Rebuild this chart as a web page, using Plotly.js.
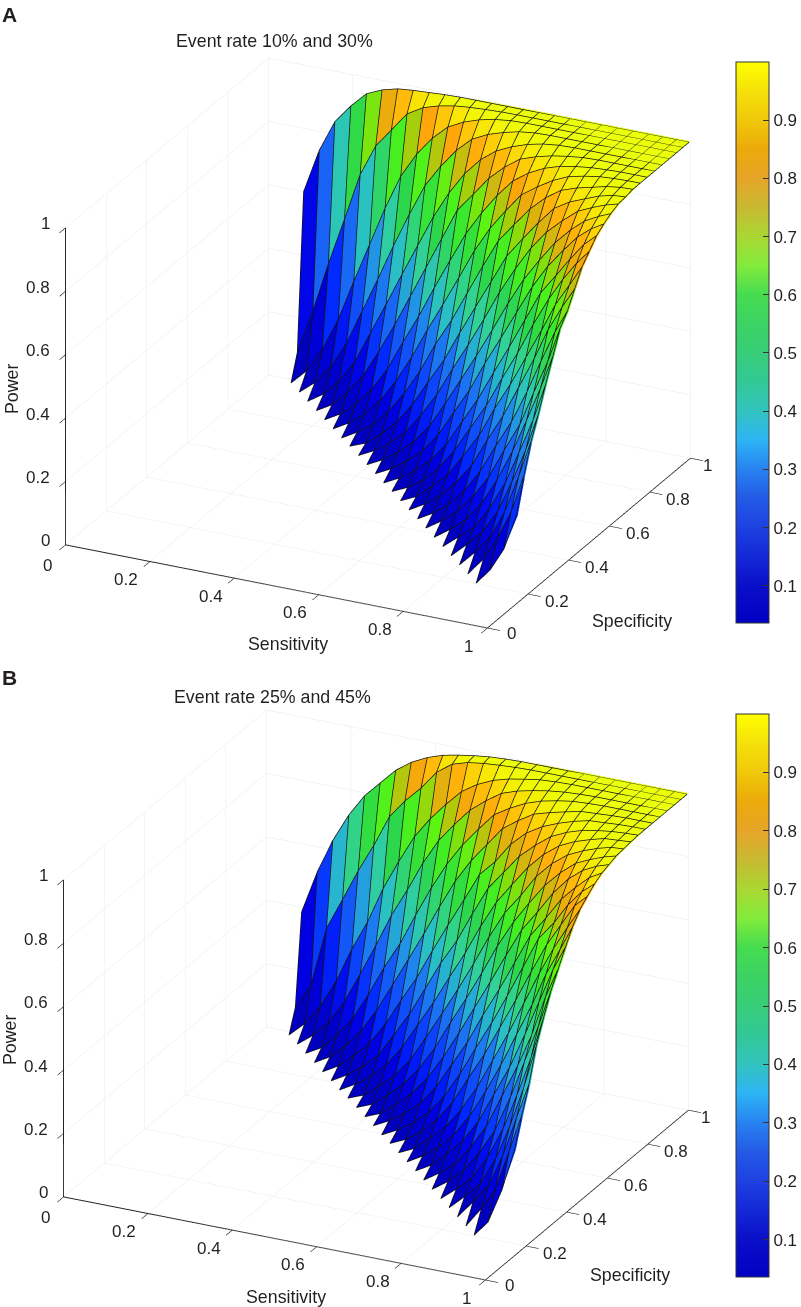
<!DOCTYPE html>
<html><head><meta charset="utf-8">
<script src="https://cdn.plot.ly/plotly-3.0.1.min.js"></script>
<style>html,body{margin:0;padding:0;background:#fff}#g{width:801px;height:1307px}</style></head>
<body><div id="g"></div>
<script>
const sensitivity=[.083,.12,.157,.195,.232,.269,.306,.343,.381,.418,.455,.492,.529,.567,.604,.641,.678,.715,.753,.79,.827,.864,.901,.934,.967,1];
const specificity=[.15,.186,.222,.257,.293,.329,.365,.401,.436,.472,.508,.544,.58,.615,.651,.687,.723,.759,.794,.83,.866,.902,.938,.969,1];
const tickValues=[0,.2,.4,.6,.8,1];
const tickLabels=['0','0.2','0.4','0.6','0.8','1'];
const barTicks=[.1,.2,.3,.4,.5,.6,.7,.8,.9];
// one row per specificity, right-aligned on sensitivity
const powerA=[
[.035,.085,.16,.275],
[.035,.092,.165,.26,.38],
[.035,.085,.145,.23,.35,.47],
[.035,.08,.13,.205,.305,.415,.535],
[.035,.075,.115,.185,.275,.38,.49,.61],
[.035,.07,.11,.17,.255,.355,.46,.57,.68],
[.035,.067,.108,.165,.235,.33,.42,.53,.635,.75],
[.035,.063,.10,.155,.225,.315,.40,.505,.61,.71,.785],
[.035,.063,.10,.15,.215,.305,.39,.49,.59,.69,.77,.835],
[.035,.058,.10,.145,.215,.29,.385,.47,.565,.66,.75,.82,.885],
[.035,.058,.092,.14,.205,.285,.365,.46,.55,.65,.74,.81,.87,.915],
[.033,.058,.092,.135,.195,.275,.355,.45,.54,.635,.73,.795,.855,.91,.945],
[.033,.058,.092,.135,.195,.275,.355,.45,.54,.63,.72,.795,.855,.905,.94,.963],
[.033,.058,.092,.135,.195,.275,.36,.445,.535,.63,.715,.785,.85,.90,.937,.96,.977],
[.033,.058,.092,.135,.20,.275,.365,.45,.54,.635,.72,.795,.855,.90,.94,.96,.977,.988],
[.033,.053,.092,.14,.205,.285,.365,.46,.55,.64,.73,.795,.855,.91,.94,.96,.977,.988,.991],
[.03,.058,.092,.145,.21,.29,.385,.47,.565,.66,.75,.81,.87,.915,.948,.965,.977,.988,.994,.996],
[.03,.058,.095,.15,.22,.305,.40,.49,.585,.68,.76,.825,.885,.92,.95,.972,.983,.991,.994,.996,.998],
[.03,.058,.10,.155,.23,.325,.415,.515,.61,.705,.78,.845,.90,.935,.96,.976,.985,.991,.994,.996,.998,.999],
[.03,.058,.108,.17,.255,.35,.45,.55,.65,.75,.81,.87,.915,.95,.967,.98,.988,.994,.996,.998,.999,.999,1],
[.03,.063,.115,.185,.285,.385,.49,.59,.69,.775,.845,.90,.937,.96,.977,.988,.994,.996,.998,.999,.999,1,1,1],
[.03,.07,.13,.215,.325,.435,.55,.66,.76,.83,.89,.935,.96,.976,.988,.994,.996,.998,.999,.999,1,1,1,1,1],
[.03,.078,.155,.26,.39,.515,.64,.75,.83,.89,.935,.96,.977,.988,.994,.996,.998,.999,.999,1,1,1,1,1,1,1],
[.11,.25,.41,.56,.71,.81,.87,.93,.96,.975,.985,.99,.993,.995,.996,.998,.999,.999,1,1,1,1,1,1,1,1],
[.60,.74,.84,.90,.948,.97,.983,.988,.991,.994,.996,.998,.999,.999,1,1,1,1,1,1,1,1,1,1,1,1]
];
const powerB=[
[.035,.085,.195,.33],
[.035,.10,.17,.30,.42],
[.035,.092,.155,.255,.385,.50],
[.035,.08,.13,.22,.33,.46,.60],
[.035,.075,.12,.195,.295,.41,.535,.67],
[.035,.07,.115,.18,.26,.375,.495,.615,.735],
[.035,.067,.108,.17,.245,.35,.455,.56,.69,.785],
[.035,.063,.108,.16,.23,.325,.42,.535,.645,.755,.835],
[.035,.063,.10,.15,.22,.305,.40,.505,.61,.715,.80,.88],
[.035,.058,.10,.145,.21,.29,.385,.48,.585,.69,.775,.85,.915],
[.035,.058,.092,.14,.205,.29,.375,.47,.565,.665,.76,.83,.90,.937],
[.033,.058,.092,.135,.195,.275,.365,.455,.55,.65,.75,.81,.875,.925,.957],
[.033,.058,.092,.135,.195,.275,.355,.45,.54,.635,.73,.795,.865,.91,.95,.972],
[.033,.053,.092,.135,.195,.27,.355,.445,.535,.63,.72,.785,.855,.91,.945,.967,.98],
[.033,.053,.092,.135,.195,.27,.36,.445,.535,.63,.715,.785,.85,.90,.94,.96,.977,.988],
[.033,.053,.092,.135,.195,.275,.36,.445,.535,.63,.715,.78,.85,.90,.937,.96,.976,.988,.991],
[.03,.058,.092,.14,.205,.285,.365,.455,.54,.635,.72,.785,.85,.90,.937,.96,.976,.988,.991,.994],
[.03,.058,.095,.14,.215,.29,.38,.47,.55,.645,.735,.795,.855,.90,.937,.96,.976,.985,.991,.994,.996],
[.03,.058,.10,.15,.22,.305,.385,.48,.57,.66,.75,.80,.865,.91,.94,.96,.976,.988,.991,.994,.996,.998],
[.03,.058,.103,.16,.235,.325,.415,.505,.60,.69,.765,.825,.885,.92,.95,.965,.977,.988,.991,.994,.996,.998,.999],
[.03,.058,.11,.17,.255,.35,.435,.535,.63,.715,.785,.845,.90,.93,.955,.972,.983,.991,.994,.996,.998,.999,.999,1],
[.03,.067,.12,.195,.29,.39,.495,.585,.68,.76,.82,.875,.915,.948,.965,.976,.985,.991,.994,.996,.998,.999,.999,1,1],
[.03,.075,.14,.23,.34,.435,.55,.645,.735,.80,.855,.905,.937,.96,.974,.983,.991,.994,.996,.998,.999,.999,1,1,1,1],
[.10,.18,.37,.47,.57,.66,.76,.82,.87,.93,.965,.98,.987,.991,.994,.996,.998,.999,1,1,1,1,1,1,1,1],
[.385,.52,.63,.72,.79,.84,.89,.925,.95,.967,.977,.985,.991,.994,.996,.998,.999,.999,1,1,1,1,1,1,1,1]
];
const cMin=.036,cMax=1;
const surfaceStops=[[.03,'rgb(0,0,190)'],[.1,'rgb(0,0,228)'],[.15,'rgb(0,40,255)'],[.25,'rgb(25,100,245)'],[.3,'rgb(30,130,240)'],[.38,'rgb(40,190,200)'],[.45,'rgb(50,210,150)'],[.55,'rgb(45,215,75)'],[.62,'rgb(60,235,40)'],[.68,'rgb(90,245,20)'],[.74,'rgb(150,215,10)'],[.78,'rgb(205,185,15)'],[.83,'rgb(255,165,10)'],[.88,'rgb(255,190,10)'],[.93,'rgb(250,225,5)'],[.97,'rgb(240,250,5)'],[1,'rgb(235,255,10)']];
const barStops=[[.036,'rgb(0,0,195)'],[.1,'rgb(10,15,200)'],[.15,'rgb(20,40,215)'],[.2,'rgb(30,65,225)'],[.25,'rgb(35,90,230)'],[.3,'rgb(40,130,240)'],[.35,'rgb(45,180,245)'],[.4,'rgb(50,195,190)'],[.45,'rgb(50,200,150)'],[.5,'rgb(55,205,120)'],[.55,'rgb(60,210,100)'],[.6,'rgb(70,220,80)'],[.65,'rgb(130,235,60)'],[.7,'rgb(170,215,50)'],[.75,'rgb(200,185,50)'],[.8,'rgb(230,165,40)'],[.85,'rgb(235,170,10)'],[.9,'rgb(240,200,10)'],[.95,'rgb(245,225,10)'],[1,'rgb(255,255,0)']];
const W=801,H=1307,FONT='"Liberation Sans",Arial,sans-serif',INK='#231f20';
const ASPECT={x:1.503,y:1.49,z:1.112},VIEW={x:.399,y:-.822,z:.406},LIFT=.012;
const toScale=s=>{const out=s.map(([v,c])=>[Math.max(0,(v-cMin)/(cMax-cMin)),c]);return out.filter((e,i)=>i===out.length-1||out[i+1][0]>0);};
function panel(rows,sceneId,barTop,barBottom){
  const nx=sensitivity.length,ny=specificity.length;
  const Z=rows.map(r=>Array(nx-r.length).fill(null).concat(r));
  const vx=[],vy=[],vz=[],idx=Z.map(()=>Array(nx).fill(-1));
  Z.forEach((r,j)=>r.forEach((v,i)=>{if(v!==null){idx[j][i]=vx.length;vx.push(sensitivity[i]);vy.push(specificity[j]);vz.push(v);}}));
  const I=[],J=[],K=[],C=[];
  for(let j=0;j<ny-1;j++)for(let i=0;i<nx-1;i++){
    const a=idx[j][i],b=idx[j][i+1],c=idx[j+1][i+1],d=idx[j+1][i];
    if(a<0||b<0||c<0||d<0)continue;
    I.push(a,a);J.push(b,c);K.push(c,d);C.push(Z[j][i],Z[j][i]);
  }
  // mesh lines sit a hair towards the viewer along the line of sight, so the faces do not swallow them
  const lift=(v,k)=>v===null?null:Math.min(1,v+LIFT*VIEW[k]/ASPECT[k]);
  const lx=[],ly=[],lz=[];
  const put=(i,j)=>{const z=Z[j][i];lx.push(z===null?null:lift(sensitivity[i],'x'));ly.push(z===null?null:lift(specificity[j],'y'));lz.push(lift(z,'z'));};
  const gap=()=>{lx.push(null);ly.push(null);lz.push(null);};
  for(let j=0;j<ny;j++){for(let i=0;i<nx;i++)put(i,j);gap();}
  for(let i=0;i<nx;i++){for(let j=0;j<ny;j++)put(i,j);gap();}
  return [
   {type:'mesh3d',scene:sceneId,x:vx,y:vy,z:vz,i:I,j:J,k:K,intensity:C,intensitymode:'cell',cmin:cMin,cmax:cMax,colorscale:toScale(surfaceStops),showscale:false,flatshading:true,hoverinfo:'skip',lighting:{ambient:1,diffuse:0,specular:0,roughness:1,fresnel:0}},
   {type:'scatter3d',scene:sceneId,mode:'lines',x:lx,y:ly,z:lz,connectgaps:false,line:{color:'#141414',width:1.5},hoverinfo:'skip',showlegend:false},
   {type:'scatter3d',scene:sceneId,mode:'markers',x:[0],y:[0],z:[0],hoverinfo:'skip',showlegend:false,marker:{size:1,opacity:0,color:[cMin],cmin:cMin,cmax:cMax,colorscale:toScale(barStops),showscale:true,
     colorbar:{x:736/W,xanchor:'left',xpad:0,ypad:0,y:1-barBottom/H,yanchor:'bottom',len:(barBottom-barTop)/H,lenmode:'fraction',thickness:33,thicknessmode:'pixels',outlinecolor:'#333',outlinewidth:1,borderwidth:0,tickvals:barTicks,ticktext:barTicks.map(String),ticks:'inside',ticklen:6,tickcolor:'#333',tickfont:{family:FONT,size:17,color:INK}}}}
  ];
}
function axis(){return {range:[0,1],autorange:false,tickvals:tickValues,tickmode:'array',ticks:'outside',ticklen:14,tickcolor:'#222',tickwidth:1.6,showticklabels:false,showgrid:true,gridcolor:'#e6e8ea',gridwidth:1,showline:true,linecolor:'#222',linewidth:2,zeroline:false,showbackground:false,showspikes:false,title:{text:''}};}
function tickNotes(){
  const f={family:FONT,size:17,color:INK};
  const base={showarrow:false,font:f,yanchor:'middle'};
  const notes=[];
  tickValues.forEach((v,k)=>{
    const edge=k===0||k===tickValues.length-1;
    notes.push({...base,x:v,y:0,z:0,text:tickLabels[k],xanchor:'center',xshift:edge?-18:-23,yshift:k===0?-21:-18});
    notes.push({...base,x:1,y:v,z:0,text:tickLabels[k],xanchor:'center',xshift:k===0?25:(k===5?18:29),yshift:k===0?-5:-7});
    notes.push({...base,x:0,y:0,z:v,text:tickLabels[k],xanchor:'right',xshift:-13,yshift:4});
  });
  return notes;
}
function scene(cx,cy){const hw=370,hh=312;const m=3;return {domain:{x:[(cx-hw)/W,(cx+hw)/W],y:[1-(cy+hh)/H,1-(cy-hh)/H]},xaxis:axis(),yaxis:axis(),zaxis:axis(),aspectmode:'manual',aspectratio:ASPECT,dragmode:false,annotations:tickNotes(),
  camera:{projection:{type:'orthographic'},up:{x:0,y:0,z:1},center:{x:0,y:0,z:0},eye:{x:VIEW.x*m,y:VIEW.y*m,z:VIEW.z*m}}};}
function ann(t,x,y,o){return Object.assign({text:t,x:x/W,y:1-y/H,xref:'paper',yref:'paper',xanchor:'left',yanchor:'middle',showarrow:false,font:{family:FONT,size:17.8,color:INK}},o||{});}
const data=[...panel(powerA,'scene',62,623),...panel(powerB,'scene2',714,1277)];
const layout={width:W,height:H,margin:{l:0,r:0,t:0,b:0,autoexpand:false},paper_bgcolor:'#fff',showlegend:false,hovermode:false,scene:scene(377.5,343),scene2:scene(375.5,995),
 annotations:[
  ann('<b>A</b>',0,14,{font:{family:FONT,size:21,color:INK}}),ann('<b>B</b>',0,677,{font:{family:FONT,size:21,color:INK}}),
  ann('Event rate 10% and 30%',174,41),ann('Event rate 25% and 45%',172,697),
  ann('Sensitivity',246,644),ann('Sensitivity',244,1297),ann('Specificity',590,621),ann('Specificity',588,1275),
  ann('Power',12,389,{textangle:-90,xanchor:'center'}),ann('Power',10,1040,{textangle:-90,xanchor:'center'})
 ]};
Plotly.newPlot('g',data,layout,{displayModeBar:false,staticPlot:false,responsive:false});
</script></body></html>
